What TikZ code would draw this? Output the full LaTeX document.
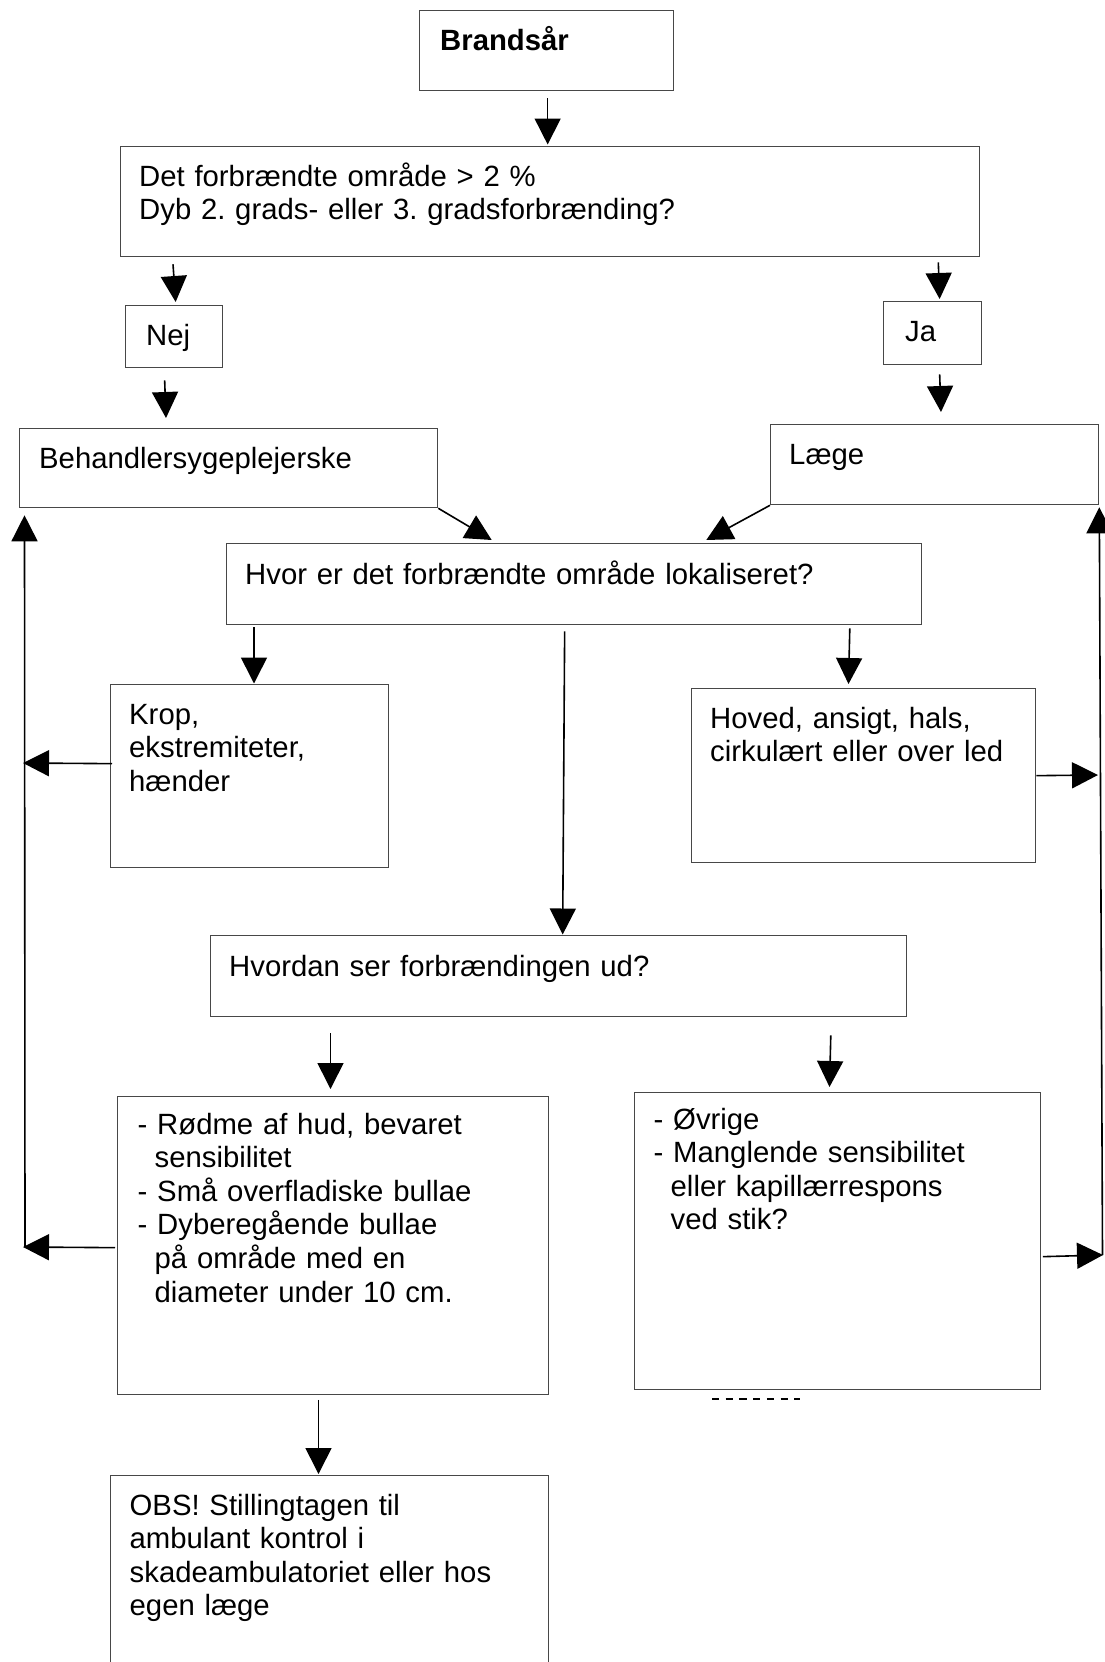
\documentclass[tikz,border=0pt]{standalone}
\usepackage{fontspec}
\setmainfont{Liberation Sans}
\usetikzlibrary{arrows.meta}
\frenchspacing
% hanging indent for wrapped bullet lines
\newcommand\contind{\hspace*{17pt}}
% a flowchart box from its top-left to its bottom-right corner
\newcommand\flowbox[5]{\node[flowrect, minimum width={#4-#2}, minimum height={#5-#3}] (#1) at (#2,#3) {};}
\begin{document}
\begin{tikzpicture}[x=1pt,y=-1pt,
  flowrect/.style={draw=black!72, line width=1.3pt, inner sep=0pt, anchor=north west, rectangle},
  txt/.style={anchor=base west, inner sep=0pt, align=left, text width=600pt,
              font=\fontsize{29.3}{33.6}\selectfont\frenchspacing},
  arr/.style={draw=black, line width=1.6pt, -{Triangle[length=26pt,width=26pt]}},
]
\useasboundingbox (0,0) rectangle (1105,1662);
\fill[white] (0,0) rectangle (1105,1662);
\clip (0,0) rectangle (1105,1662);

% boxes
\flowbox{brand}{419}{10}{673}{90}
\flowbox{q1}{120}{146}{979}{256}
\flowbox{nej}{125}{305}{222}{367}
\flowbox{ja}{883}{301}{981}{364}
\flowbox{beh}{19}{428}{437}{507}
\flowbox{laege}{770}{424}{1098}{504}
\flowbox{hvor}{226}{543}{921}{624}
\flowbox{krop}{110}{684}{388}{867}
\flowbox{hoved}{691}{688}{1035}{862}
\flowbox{hvordan}{210}{935}{906}{1016}
\flowbox{rodme}{117}{1096}{548}{1394}
\flowbox{ovr}{634}{1092}{1040}{1389}
\flowbox{obs}{110}{1475}{548}{1700}

% box texts
\node[txt] (brand-t) at (440,51) {\bfseries Brandsår};
\node[txt] (q1-t) at (139,186) {Det forbrændte område > 2 \%\\Dyb 2. grads- eller 3. gradsforbrænding?};
\node[txt] (nej-t) at (146,345) {Nej};
\node[txt] (ja-t) at (905,341) {Ja};
\node[txt] (beh-t) at (39,468) {Behandlersygeplejerske};
\node[txt] (laege-t) at (789,464) {Læge};
\node[txt] (hvor-t) at (245,584) {Hvor er det forbrændte område lokaliseret?};
\node[txt] (krop-t) at (129,724) {Krop,\\ekstremiteter,\\hænder};
\node[txt] (hoved-t) at (710,728) {Hoved, ansigt, hals,\\cirkulært eller over led};
\node[txt] (hvordan-t) at (229,976) {Hvordan ser forbrændingen ud?};
\node[txt] (rodme-t) at (137.5,1134) {- Rødme af hud, bevaret\\\contind sensibilitet\\- Små overfladiske bullae\\- Dyberegående bullae\\\contind på område med en\\\contind diameter under 10 cm.};
\node[txt] (ovr-t) at (653.5,1129) {- Øvrige\\- Manglende sensibilitet\\\contind eller kapillærrespons\\\contind ved stik?};
\node[txt] (obs-t) at (129.5,1515) {OBS! Stillingtagen til\\ambulant kontrol i\\skadeambulatoriet eller hos\\egen læge};

% main flow
\draw[arr] ([shift={(1,7)}]brand.south) -- ([shift={(-2.5,-1.5)}]q1.north);
\draw[arr] ([shift={(53,7)}]q1.south west) -- ([shift={(1.5,-3)}]nej.north);
\draw[arr] ([shift={(-42,5)}]q1.south east) -- ([shift={(7,-2)}]ja.north);
\draw[arr] ([shift={(-9.5,12)}]nej.south) -- ([shift={(147,-10)}]beh.north west);
\draw[arr] ([shift={(7,9)}]ja.south) -- ([shift={(171,-12)}]laege.north west);
\draw[arr] (beh.south east) -- ([shift={(265.7,-3)}]hvor.north west);
\draw[arr] (laege.south west) -- ([shift={(-216,-3)}]hvor.north east);
\draw[arr] ([shift={(28,2)}]hvor.south west) -- ([shift={(144,-0.5)}]krop.north west);
\draw[arr] ([shift={(-9.5,6)}]hvor.south) -- ([shift={(4,-0.5)}]hvordan.north);
\draw[arr] ([shift={(-72.5,3)}]hvor.south east) -- ([shift={(157.5,-4)}]hoved.north west);
\draw[arr] ([shift={(120.5,16)}]hvordan.south west) -- ([shift={(213.5,-7)}]rodme.north west);
\draw[arr] ([shift={(-76.5,18)}]hvordan.south east) -- ([shift={(195.5,-5)}]ovr.north west);
\draw[arr] ([shift={(201.5,4.5)}]rodme.south west) -- ([shift={(208.5,-1)}]obs.north west);

% return path on the left, back to the nurse
\coordinate (lk) at (23,763);
\coordinate (lr) at (23,1247);
\coordinate (lb) at (25,1247);
\draw[arr] ([shift={(2,-12.5)}]krop.west) -- (lk);
\draw[arr] ([shift={(-2,2)}]rodme.west) -- (lr);
\draw[arr] (lb) -- ([shift={(5.5,7)}]beh.south west);

% return path on the right, back to the doctor
\coordinate (rh) at (1098,775);
\coordinate (ro) at (1103,1255);
\coordinate (rb) at (1102.5,1255);
\draw[arr] (hoved.east) -- (rh);
\draw[arr] ([shift={(1.6,15.5)}]ovr.east) -- (ro);
\draw[arr] (rb) -- ([shift={(0,2)}]laege.south east);

% dashed stroke under the right-hand box
\draw[line width=2pt, dash pattern=on 7.3pt off 6.4pt] (712,1399) -- (800,1399);
\end{tikzpicture}
\end{document}
